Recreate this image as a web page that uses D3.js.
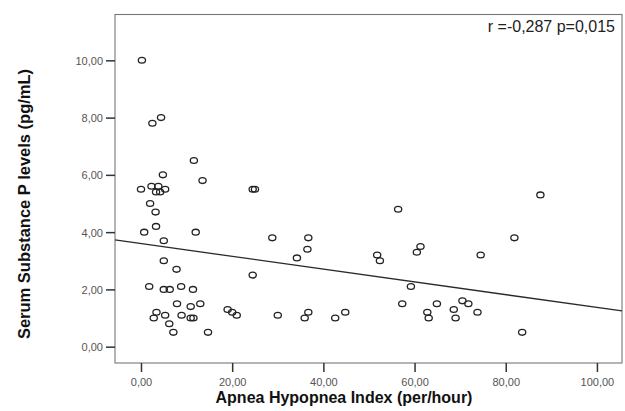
<!DOCTYPE html>
<html lang='en'>
<head>
    <meta charset='UTF-8'>
    <title>Substance P vs AHI</title>
    <style>
        body { margin: 0; background: #fff; }
        text { font-family: 'Liberation Sans', Arial, Helvetica, sans-serif; }
    </style>
</head>
<body>
<div id="chart-area"></div>
<script src='https://d3js.org/d3.v7.min.js'></script>
<script>

    // apnea hypopnea index (per/hour)
    const ahi = [
        0.2, 2.5, 4.4, 11.6, 13.5, 4.8, 0.0, 2.3, 3.8, 3.3,
        4.2, 5.3, 24.5, 25.0, 2.0, 3.2, 3.3, 0.7, 12.0, 5.0,
        5.0, 7.8, 1.8, 5.0, 6.3, 8.8, 11.4, 7.9, 10.9, 13.0,
        3.4, 2.8, 5.3, 8.9, 10.9, 11.5, 6.2, 7.1, 14.7, 19.0,
        20.0, 21.0, 24.5, 28.8, 36.7, 36.5, 34.2, 30.0, 36.7, 35.9,
        42.6, 44.8, 56.4, 51.8, 52.4, 61.3, 60.5, 59.2, 57.3, 62.8,
        63.1, 64.9, 68.6, 69.0, 70.5, 71.8, 73.8, 74.5, 81.9, 87.6,
        83.6
    ];
    // serum substance P (pg/mL)
    const substanceP = [
        10.0, 7.8, 8.0, 6.5, 5.8, 6.0, 5.5, 5.6, 5.6, 5.4,
        5.4, 5.5, 5.5, 5.5, 5.0, 4.7, 4.2, 4.0, 4.0, 3.7,
        3.0, 2.7, 2.1, 2.0, 2.0, 2.1, 2.0, 1.5, 1.4, 1.5,
        1.2, 1.0, 1.1, 1.1, 1.0, 1.0, 0.8, 0.5, 0.5, 1.3,
        1.2, 1.1, 2.5, 3.8, 3.8, 3.4, 3.1, 1.1, 1.2, 1.0,
        1.0, 1.2, 4.8, 3.2, 3.0, 3.5, 3.3, 2.1, 1.5, 1.2,
        1.0, 1.5, 1.3, 1.0, 1.6, 1.5, 1.2, 3.2, 3.8, 5.3,
        0.5
    ];

    const xTicks = [0, 20, 40, 60, 80, 100];
    const yTicks = [0, 2, 4, 6, 8, 10];

    // linear fit line
    const fitIntercept = 3.60;
    const fitSlope = -0.0223;
    const statsLabel = 'r =-0,287 p=0,015';

    const data = ahi.map((x, i) => [x, substanceP[i]]);

    const width = 625, height = 411;
    const plot = {left: 115, right: 622, top: 14.5, bottom: 363};

    const fmt = v => d3.format('.2f')(v).replace('.', ',');

    const svg = d3.select('#chart-area').append('svg')
        .attr('width', width)
        .attr('height', height);

    const x = d3.scaleLinear().domain([-5.7, 105.5]).range([plot.left, plot.right]);
    const y = d3.scaleLinear().domain([-0.57, 11.6]).range([plot.bottom, plot.top]);

    // frame
    svg.append('rect')
        .attr('x', plot.left)
        .attr('y', plot.top)
        .attr('width', plot.right - plot.left)
        .attr('height', plot.bottom - plot.top)
        .attr('fill', 'none')
        .attr('stroke', '#777')
        .attr('stroke-width', 1.1);

    const xAxis = d3.axisBottom(x).tickValues(xTicks).tickSize(9).tickSizeOuter(0).tickFormat(fmt);
    const yAxis = d3.axisLeft(y).tickValues(yTicks).tickSize(9).tickSizeOuter(0).tickFormat(fmt);

    const gx = svg.append('g')
        .attr('transform', `translate(0, ${plot.bottom})`)
        .call(xAxis);
    const gy = svg.append('g')
        .attr('transform', `translate(${plot.left}, 0)`)
        .call(yAxis);

    [gx, gy].forEach(g => {
        g.select('.domain').remove();
        g.selectAll('.tick line').attr('stroke', '#333').attr('stroke-width', 1.5);
        g.selectAll('.tick text')
            .attr('fill', '#555')
            .style('font-size', '11px')
            .style('font-family', "'Liberation Sans', Arial, sans-serif");
    });
    gx.selectAll('.tick text').attr('dy', null).attr('y', 23);
    gy.selectAll('.tick text').attr('x', -12).attr('dy', '0.36em');

    // fit line
    const xd = x.domain();
    svg.append('line')
        .attr('x1', x(xd[0]))
        .attr('y1', y(fitIntercept + fitSlope * xd[0]))
        .attr('x2', x(xd[1]))
        .attr('y2', y(fitIntercept + fitSlope * xd[1]))
        .attr('stroke', '#2a2a2a')
        .attr('stroke-width', 1.3);

    svg.append('g')
        .selectAll('ellipse')
        .data(data)
        .join('ellipse')
        .attr('cx', d => x(d[0]))
        .attr('cy', d => y(d[1]))
        .attr('rx', 3.6)
        .attr('ry', 2.9)
        .attr('fill', 'none')
        .attr('stroke', '#222')
        .attr('stroke-width', 1.3);

    svg.append('text')
        .attr('x', 615)
        .attr('y', 32)
        .attr('text-anchor', 'end')
        .attr('fill', '#222')
        .style('font-size', '16px')
        .text(statsLabel);

    svg.append('text')
        .attr('x', 344)
        .attr('y', 403)
        .attr('text-anchor', 'middle')
        .attr('fill', '#111')
        .style('font-size', '16px')
        .style('font-weight', 'bold')
        .text('Apnea Hypopnea Index (per/hour)');

    svg.append('text')
        .attr('transform', 'translate(30, 204) rotate(-90)')
        .attr('text-anchor', 'middle')
        .attr('fill', '#111')
        .style('font-size', '16.5px')
        .style('font-weight', 'bold')
        .text('Serum Substance P levels (pg/mL)');

</script>
</body>
</html>
